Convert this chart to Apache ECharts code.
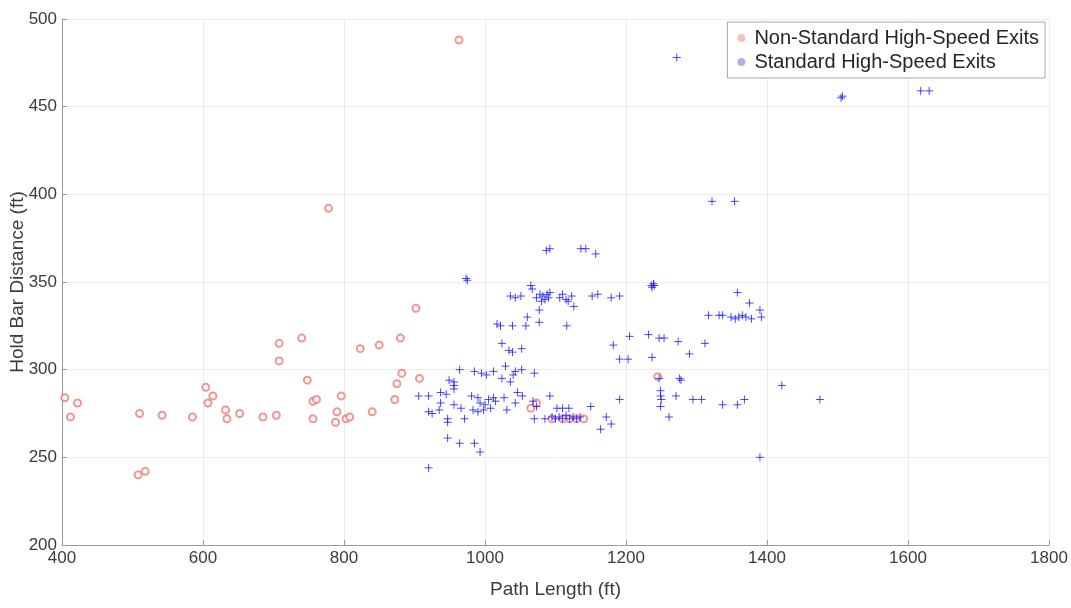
<!DOCTYPE html>
<html>
<head>
<meta charset="utf-8">
<script src="https://cdn.jsdelivr.net/npm/echarts@6/dist/echarts.min.js"></script>
<style>
  html, body { margin: 0; padding: 0; background: #fff; }
  #chart { width: 1071px; height: 608px; }
</style>
</head>
<body>
<div id="chart"></div>
<script>
// Non-standard high-speed exits: [path length (ft), hold bar distance (ft)]
const nonStandardExits = [
  [404, 284], [412, 273], [422, 281], [510, 275], [508, 240], [518, 242],
  [542, 274], [585, 273], [604, 290], [607, 281], [614, 285], [632, 277],
  [634, 272], [652, 275], [685, 273], [704, 274], [708, 315], [708, 305],
  [740, 318], [748, 294], [756, 282], [761, 283], [756, 272], [778, 392],
  [788, 270], [790, 276], [796, 285], [803, 272], [808, 273], [823, 312],
  [850, 314], [840, 276], [872, 283], [875, 292], [880, 318], [882, 298],
  [902, 335], [907, 295], [963, 488], [1065, 278], [1073, 281], [1095, 272],
  [1110, 272], [1120, 272], [1130, 272], [1140, 272], [1245, 296]
];

// Standard high-speed exits: [path length (ft), hold bar distance (ft)]
const standardExits = [
  [1272, 478], [1505, 455], [1507, 456], [1618, 459], [1630, 459],
  [1322, 396], [1354, 396],
  [1087, 368], [1092, 369], [1136, 369], [1143, 369], [1157, 366],
  [973, 352], [975, 351],
  [1237, 347], [1239, 349], [1240, 348], [1236, 348],
  [1036, 342], [1043, 341], [1051, 342], [1065, 348], [1067, 346], [1073, 341],
  [1078, 343], [1082, 342], [1085, 340], [1088, 343], [1090, 341], [1092, 344],
  [1080, 339], [1106, 341], [1110, 343], [1115, 340], [1118, 339], [1123, 342],
  [1126, 336], [1152, 342], [1160, 343], [1179, 341], [1191, 342],
  [1077, 334], [1060, 330], [1058, 325], [1077, 327], [1039, 325], [1017, 326],
  [1022, 325], [1116, 325],
  [1024, 315], [1034, 311], [1039, 310], [1052, 312],
  [1182, 314], [1205, 319], [1232, 320], [1247, 318], [1254, 318], [1274, 316],
  [1312, 315], [1290, 309], [1237, 307], [1191, 306], [1203, 306],
  [1317, 331], [1332, 331], [1337, 331], [1349, 330], [1355, 329], [1360, 330],
  [1365, 331], [1370, 330], [1378, 329], [1358, 344], [1375, 338], [1390, 334],
  [1392, 330],
  [1421, 291], [1475, 283], [1390, 250],
  [1247, 295], [1276, 295], [1278, 294],
  [1249, 288], [1249, 285], [1250, 283], [1249, 279], [1271, 285], [1295, 283],
  [1307, 283], [1337, 280], [1358, 280], [1368, 283], [1261, 273],
  [1191, 283], [1172, 273], [1179, 269], [1164, 266], [1150, 279],
  [1068, 282], [1073, 279], [1092, 285], [1070, 272], [1085, 272], [1095, 273],
  [1100, 272], [1105, 273], [1110, 272], [1115, 274], [1120, 272], [1125, 273],
  [1130, 272], [1135, 273], [1102, 278], [1110, 278], [1119, 278],
  [906, 285], [920, 285], [949, 294], [956, 293], [964, 300], [985, 299],
  [995, 298], [1002, 297], [1012, 299], [1024, 295], [1036, 293], [1040, 297],
  [1043, 299], [1052, 300], [1070, 298], [1029, 302],
  [937, 287], [945, 286], [956, 289], [956, 291], [937, 281], [956, 280],
  [966, 278], [920, 276], [925, 275], [935, 277], [947, 272], [947, 270],
  [971, 272],
  [981, 285], [990, 284], [993, 281], [1005, 283], [1012, 284], [1027, 284],
  [983, 277], [990, 276], [998, 277], [1008, 278], [1015, 282], [1000, 280],
  [1031, 277], [1043, 281], [1046, 287], [1053, 285],
  [947, 261], [964, 258], [985, 258], [993, 253],
  [920, 244]
];

// Axis ranges and tick spacing
const xTicks = { min: 400, max: 1800, step: 200 };
const yTicks = { min: 200, max: 500, step: 50 };

const FONT = '"Liberation Sans", Arial, Helvetica, sans-serif';
const TEXT_COLOR = '#3c3c3c';
const AXIS_COLOR = '#9a9a9a';
const GRID_COLOR = '#ececec';
const PLUS = 'path://M5,0 L5,10 M0,5 L10,5';

const chart = echarts.init(document.getElementById('chart'), null, { renderer: 'canvas' });

function axisCommon(name, t, gap) {
  return {
    type: 'value',
    min: t.min, max: t.max, interval: t.step,
    name: name, nameLocation: 'middle', nameGap: gap, nameMoveOverlap: false,
    nameTextStyle: { fontFamily: FONT, fontSize: 19, color: TEXT_COLOR },
    axisLine: { show: true, lineStyle: { color: AXIS_COLOR, width: 1 } },
    axisTick: { show: true, inside: true, length: 5, lineStyle: { color: AXIS_COLOR } },
    axisLabel: {
      fontFamily: FONT, fontSize: 17, color: TEXT_COLOR, margin: 5,
      formatter: function (v) { return String(v); }
    },
    splitLine: { show: true, lineStyle: { color: GRID_COLOR, width: 1 } }
  };
}

chart.setOption({
  backgroundColor: '#ffffff',
  animation: false,
  grid: { left: 62, right: 22, top: 19, bottom: 63, containLabel: false, outerBoundsMode: 'none' },
  xAxis: axisCommon('Path Length (ft)', xTicks, 35),
  yAxis: axisCommon('Hold Bar Distance (ft)', yTicks, 35),
  legend: {
    right: 26, top: 22,
    orient: 'vertical',
    itemGap: 4, itemWidth: 8, itemHeight: 8,
    padding: [6, 6, 6, 10],
    backgroundColor: '#ffffff',
    borderColor: '#a8a8a8', borderWidth: 1,
    textStyle: { fontFamily: FONT, fontSize: 20, color: '#262626', padding: [0, 0, 0, 4] },
    data: [
      { name: 'Non-Standard High-Speed Exits', icon: 'circle',
        itemStyle: { color: '#f6b3a8', borderWidth: 0 } },
      { name: 'Standard High-Speed Exits', icon: 'circle',
        itemStyle: { color: '#97a0d8', borderWidth: 0 } }
    ]
  },
  series: [
    {
      name: 'Non-Standard High-Speed Exits',
      type: 'scatter',
      data: nonStandardExits,
      symbol: 'emptyCircle',
      symbolSize: 7,
      itemStyle: { color: '#f07a7a', borderColor: '#f07a7a', borderWidth: 1 }
    },
    {
      name: 'Standard High-Speed Exits',
      type: 'scatter',
      data: standardExits,
      symbol: PLUS,
      symbolSize: 8,
      itemStyle: { color: 'rgba(0,0,0,0)', borderColor: '#1a1aff', borderWidth: 1 }
    }
  ]
});
</script>
</body>
</html>
